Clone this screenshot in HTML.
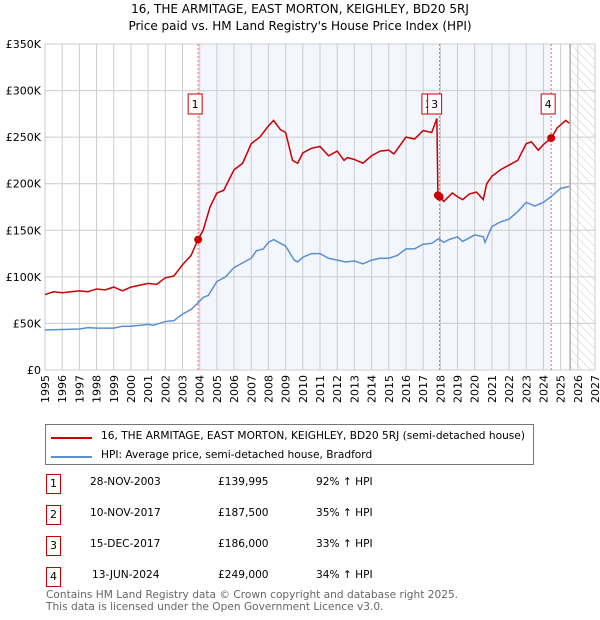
<!DOCTYPE html>
<html><head><meta charset="utf-8"><style>
body{margin:0;background:#fff;font-family:"DejaVu Sans","Liberation Sans",sans-serif;}
#wrap{position:relative;width:600px;height:620px;overflow:hidden}
.t{position:absolute;font-size:10.6px;color:#000;white-space:nowrap}
.box{position:absolute;width:13px;height:18px;border:1px solid #c00;font-size:11px;text-align:center;line-height:18px;background:#fff}
</style></head><body>
<div id="wrap">
<div class="t" style="left:0;width:600px;text-align:center;top:2px;font-size:12px">16, THE ARMITAGE, EAST MORTON, KEIGHLEY, BD20 5RJ</div>
<div class="t" style="left:0;width:600px;text-align:center;top:19px;font-size:12px">Price paid vs. HM Land Registry's House Price Index (HPI)</div>
<svg id="chart" width="600" height="420" style="position:absolute;left:0;top:0">
<defs><pattern id="hatch" width="6" height="6" patternUnits="userSpaceOnUse" patternTransform="rotate(-45)"><line x1="0" y1="0" x2="0" y2="6" stroke="#ccc" stroke-width="1"/></pattern></defs>
</svg>
<div style="position:absolute;left:45px;top:424px;width:487px;height:39px;border:1px solid #777"></div>
<div style="position:absolute;left:51px;top:437px;width:41px;height:2px;background:#c00"></div>
<div class="t" style="left:101px;top:430px">16, THE ARMITAGE, EAST MORTON, KEIGHLEY, BD20 5RJ (semi-detached house)</div>
<div style="position:absolute;left:51px;top:456px;width:41px;height:2px;background:#5b8fd0"></div>
<div class="t" style="left:101px;top:449px">HPI: Average price, semi-detached house, Bradford</div>
<div id="table"></div>
<div class="t" style="left:46px;top:589px;color:#666">Contains HM Land Registry data © Crown copyright and database right 2025.</div>
<div class="t" style="left:46px;top:601px;color:#666">This data is licensed under the Open Government Licence v3.0.</div>
</div>
<script>
const hpiYears=[1995,1996,1997,1997.5,1998,1999,1999.5,2000,2001,2001.3,2002,2002.5,2003,2003.5,2003.9,2004.2,2004.5,2005,2005.5,2006,2006.5,2007,2007.3,2007.7,2008,2008.3,2008.7,2009,2009.5,2009.7,2010,2010.5,2011,2011.5,2012,2012.5,2013,2013.5,2014,2014.5,2015,2015.5,2016,2016.5,2017,2017.5,2017.9,2018.2,2018.5,2019,2019.3,2019.8,2020,2020.5,2020.6,2021,2021.5,2022,2022.5,2023,2023.5,2024,2024.5,2025,2025.5];
const hpiValues=[43,43.5,44,45.5,45,45,47,47,49,48,52,53,60,65,72,78,80,95,100,110,115,120,128,130,137,140,136,133,118,116,121,125,125,120,118,116,117,114,118,120,120,123,130,130,135,136,141,137,140,143,138,143,145,143,137,154,159,162,170,180,176,180,187,195,197];
const priceYears=[1995,1995.5,1996,1997,1997.5,1998,1998.5,1999,1999.5,2000,2000.5,2001,2001.5,2002,2002.5,2003,2003.5,2003.9,2004.2,2004.6,2005,2005.4,2006,2006.5,2007,2007.5,2008,2008.3,2008.7,2009,2009.4,2009.7,2010,2010.5,2011,2011.5,2012,2012.4,2012.6,2013,2013.5,2014,2014.5,2015,2015.3,2016,2016.5,2017,2017.5,2017.8,2017.86,2017.96,2018.2,2018.7,2019,2019.3,2019.7,2020.1,2020.4,2020.5,2020.7,2021,2021.5,2022,2022.5,2023,2023.3,2023.7,2024,2024.45,2024.8,2025.3,2025.5];
const priceValues=[81,84,83,85,84,87,86,89,85,89,91,93,92,99,101,113,123,140,150,175,190,193,215,222,243,250,262,268,258,255,225,222,233,238,240,230,235,225,228,226,222,230,235,236,232,250,248,257,255,270,187.5,186,181,190,186,183,189,191,185,183,200,208,215,220,225,243,245,236,242,249,260,268,265];
const saleLabels=["1","2","3","4"];
const saleYears=[2003.91,2017.86,2017.96,2024.45];
const salePrices=[139.995,187.5,186,249];
const saleDates=["28-NOV-2003","10-NOV-2017","15-DEC-2017","13-JUN-2024"];
const salePriceText=["£139,995","£187,500","£186,000","£249,000"];
const saleHpiText=["92% ↑ HPI","35% ↑ HPI","33% ↑ HPI","34% ↑ HPI"];
const yTicks=[0,50,100,150,200,250,300,350];
const yTickLabels=["£0","£50K","£100K","£150K","£200K","£250K","£300K","£350K"];
const xTicks=[1995,1996,1997,1998,1999,2000,2001,2002,2003,2004,2005,2006,2007,2008,2009,2010,2011,2012,2013,2014,2015,2016,2017,2018,2019,2020,2021,2022,2023,2024,2025,2026,2027];

const X0=45,X1=595,Y0=370,Y1=44;
const sx=y=>X0+(y-1995)/(2027-1995)*(X1-X0);
const sy=v=>Y0-v/350*(Y0-Y1);
const svg=document.getElementById('chart');
const NS='http://www.w3.org/2000/svg';
function mk(t,a){const e=document.createElementNS(NS,t);for(const k in a)e.setAttribute(k,a[k]);svg.appendChild(e);return e;}
const dataEnd=2025.55;
let e;
e=mk('rect',{x:sx(saleYears[0]),y:Y1,width:sx(saleYears[3])-sx(saleYears[0]),height:Y0-Y1,fill:'#f3f6fd'});


e=mk('rect',{x:sx(dataEnd),y:Y1,width:X1-sx(dataEnd),height:Y0-Y1,fill:'url(#hatch)'});


xTicks.forEach(t=>{
 e=mk('line',{x1:sx(t),x2:sx(t),y1:Y1,y2:Y0,stroke:'#ccc','stroke-width':1});
 
 
 e=mk('text',{x:0,y:0,'font-size':11,'font-family':'DejaVu Sans, sans-serif',transform:`translate(${sx(t)+4},${Y0+5}) rotate(-90)`,'text-anchor':'end'});
 e.textContent=String(t);
 
 
});
yTicks.forEach((t,i)=>{
 e=mk('line',{x1:X0,x2:X1,y1:sy(t),y2:sy(t),stroke:'#ccc','stroke-width':1});
 
 
 e=mk('text',{x:X0-4,y:sy(t)+4,'font-size':11,'font-family':'DejaVu Sans, sans-serif','text-anchor':'end'});
 e.textContent=yTickLabels[i];
 
 
});
e=mk('line',{x1:sx(dataEnd),x2:sx(dataEnd),y1:Y1,y2:Y0,stroke:'#888','stroke-width':1});


saleYears.forEach((y,i)=>{
 if(i===1)return;
 e=mk('line',{x1:sx(y),x2:sx(y),y1:Y1,y2:Y0,stroke:'#e66','stroke-width':1,'stroke-dasharray':'2,2'});
 
 
});
e=mk('polyline',{points:hpiYears.map((y,i)=>sx(y)+','+sy(hpiValues[i])).join(' '),fill:'none',stroke:'#5b8fd0','stroke-width':1.5});


e=mk('polyline',{points:priceYears.map((y,i)=>sx(y)+','+sy(priceValues[i])).join(' '),fill:'none',stroke:'#c00','stroke-width':1.5});


saleYears.forEach((y,i)=>{
 e=mk('circle',{cx:sx(y),cy:sy(salePrices[i]),r:4,fill:'#c00'});
 
 
});
const boxOff=[-10,-16,-12,-10];
saleYears.forEach((y,i)=>{
 const bx=sx(y)+boxOff[i];
 e=mk('rect',{x:bx,y:94,width:14,height:20,fill:'#fff',stroke:'#c00','stroke-width':1});
 
 
 e=mk('text',{x:bx+7,y:108,'font-size':11,'font-family':'DejaVu Sans, sans-serif','text-anchor':'middle'});
 e.textContent=saleLabels[i];
 
 
});
const tb=document.getElementById('table');
saleLabels.forEach((l,i)=>{
 const top=474+i*31;
 const b=document.createElement('div');b.className='box';b.style.left='46px';b.style.top=top+'px';b.textContent=l;
 
 
 tb.appendChild(b);
 [[saleDates[i],90+(i===3?2:0),'table-date'],[salePriceText[i],218,'table-price'],[saleHpiText[i],316,'table-hpi-change']].forEach(([txt,x,n])=>{
  const d=document.createElement('div');d.className='t';d.style.left=x+'px';d.style.top=(top+2)+'px';d.textContent=txt;
  
  
  tb.appendChild(d);
 });
});
</script>
</body></html>
